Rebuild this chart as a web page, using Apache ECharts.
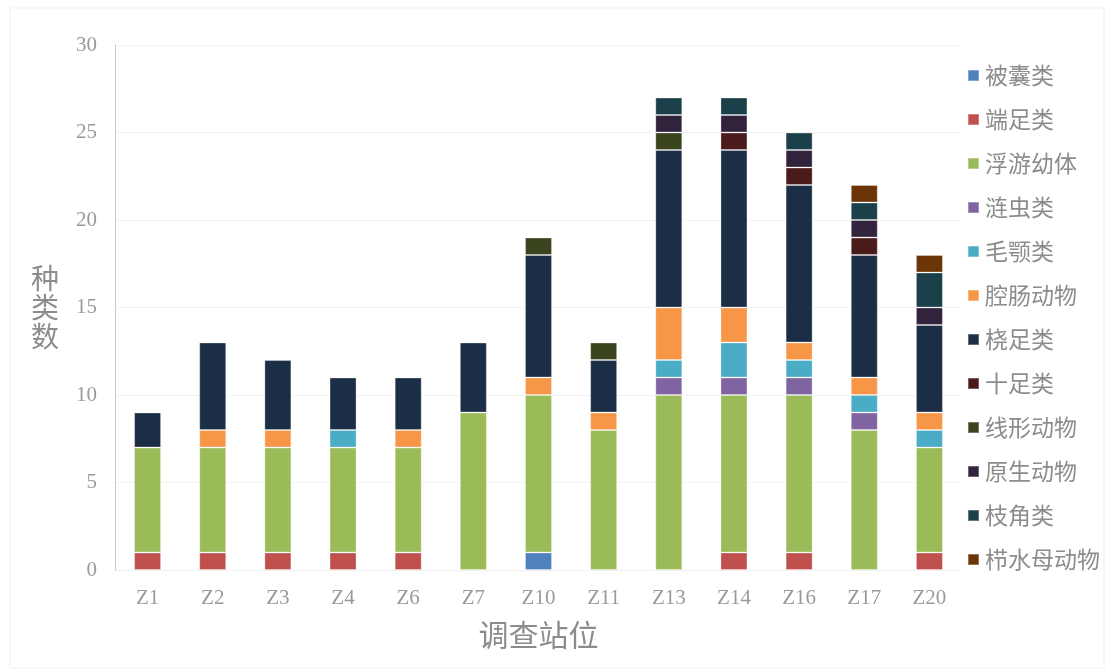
<!DOCTYPE html>
<html>
<head>
<meta charset="utf-8">
<script src="https://cdn.jsdelivr.net/npm/echarts@6/dist/echarts.min.js"></script>
<style>
  html, body { margin: 0; padding: 0; background: #ffffff; }
  #chart { width: 1108px; height: 670px; }
</style>
</head>
<body>
<div id="chart"></div>
<script>
// Survey stations
const stations = ['Z1', 'Z2', 'Z3', 'Z4', 'Z6', 'Z7', 'Z10', 'Z11', 'Z13', 'Z14', 'Z16', 'Z17', 'Z20'];

// Species counts per group at each station (stacked bottom to top)
const beinang    = [0, 0, 0, 0, 0, 0, 1, 0, 0, 0, 0, 0, 0]; // 被囊类
const duanzu     = [1, 1, 1, 1, 1, 0, 0, 0, 0, 1, 1, 0, 1]; // 端足类
const fuyouyouti = [6, 6, 6, 6, 6, 9, 9, 8, 10, 9, 9, 8, 6]; // 浮游幼体
const lianchong  = [0, 0, 0, 0, 0, 0, 0, 0, 1, 1, 1, 1, 0]; // 涟虫类
const maoe       = [0, 0, 0, 1, 0, 0, 0, 0, 1, 2, 1, 1, 1]; // 毛颚类
const qiangchang = [0, 1, 1, 0, 1, 0, 1, 1, 3, 2, 1, 1, 1]; // 腔肠动物
const raozu      = [2, 5, 4, 3, 3, 4, 7, 3, 9, 9, 9, 7, 5]; // 桡足类
const shizu      = [0, 0, 0, 0, 0, 0, 0, 0, 0, 1, 1, 1, 0]; // 十足类
const xianxing   = [0, 0, 0, 0, 0, 0, 1, 1, 1, 0, 0, 0, 0]; // 线形动物
const yuansheng  = [0, 0, 0, 0, 0, 0, 0, 0, 1, 1, 1, 1, 1]; // 原生动物
const zhijiao    = [0, 0, 0, 0, 0, 0, 0, 0, 1, 1, 1, 1, 2]; // 枝角类
const zhishuimu  = [0, 0, 0, 0, 0, 0, 0, 0, 0, 0, 0, 1, 1]; // 栉水母动物

const groupNames = ['被囊类', '端足类', '浮游幼体', '涟虫类', '毛颚类', '腔肠动物',
                    '桡足类', '十足类', '线形动物', '原生动物', '枝角类', '栉水母动物'];
const groupData = [beinang, duanzu, fuyouyouti, lianchong, maoe, qiangchang,
                   raozu, shizu, xianxing, yuansheng, zhijiao, zhishuimu];
const groupColors = ['#4F81BD', '#C0504D', '#9BBB59', '#8064A2', '#4BACC6', '#F79646',
                     '#1C2E46', '#4B1A1A', '#3A4520', '#32233D', '#1B4049', '#6C3507'];

const yTicks = { min: 0, max: 30, interval: 5 };

const chart = echarts.init(document.getElementById('chart'), null, { renderer: 'canvas' });

const series = groupNames.map((name, i) => ({
  name: name,
  type: 'bar',
  stack: 'total',
  barWidth: 27,
  data: groupData[i].map(v => (v === 0 ? '-' : v)),
  itemStyle: {
    color: groupColors[i],
    borderColor: 'rgba(255,255,255,0.3)',
    borderWidth: 1
  },
  emphasis: { disabled: true }
}));

chart.setOption({
  backgroundColor: '#ffffff',
  animation: false,
  graphic: [{
    type: 'rect',
    shape: { x: 10, y: 8, width: 1094, height: 660 },
    style: { fill: 'none', stroke: '#efefef', lineWidth: 1 },
    silent: true
  }],
  grid: { left: 115, right: 146, top: 45, bottom: 100 },
  legend: {
    orient: 'vertical',
    left: 962,
    top: 59,
    itemWidth: 11,
    itemHeight: 11,
    itemGap: 21,
    icon: 'rect',
    textStyle: {
      fontFamily: '"Noto Sans CJK SC", sans-serif',
      fontSize: 23,
      color: '#8c8c8c',
      lineHeight: 23,
      padding: [0, 0, 0, 1]
    },
    data: groupNames
  },
  xAxis: {
    type: 'category',
    data: stations,
    name: '调查站位',
    nameLocation: 'middle',
    nameGap: 50,
    nameTextStyle: {
      fontFamily: '"Noto Sans CJK SC", sans-serif',
      fontSize: 30,
      color: '#8c8c8c'
    },
    axisLine: { show: true, lineStyle: { color: '#f0f0f0', width: 1 } },
    axisTick: { show: false },
    axisLabel: {
      margin: 18,
      fontFamily: '"Liberation Serif", "DejaVu Serif", serif',
      fontSize: 21,
      color: '#9a9a9a'
    }
  },
  yAxis: {
    type: 'value',
    min: yTicks.min,
    max: yTicks.max,
    interval: yTicks.interval,
    name: '种\n类\n数',
    nameLocation: 'middle',
    nameRotate: 0,
    nameGap: 70,
    nameTextStyle: {
      fontFamily: '"Noto Sans CJK SC", sans-serif',
      fontSize: 28,
      lineHeight: 29,
      color: '#8c8c8c',
      align: 'center'
    },
    axisLine: { show: true, lineStyle: { color: '#c8c8c8', width: 1 } },
    axisTick: { show: false },
    axisLabel: {
      margin: 18,
      fontFamily: '"Liberation Serif", "DejaVu Serif", serif',
      fontSize: 21,
      color: '#9a9a9a'
    },
    splitLine: { show: true, lineStyle: { color: '#f3f3f3', width: 1 } }
  },
  series: series
});
</script>
</body>
</html>
